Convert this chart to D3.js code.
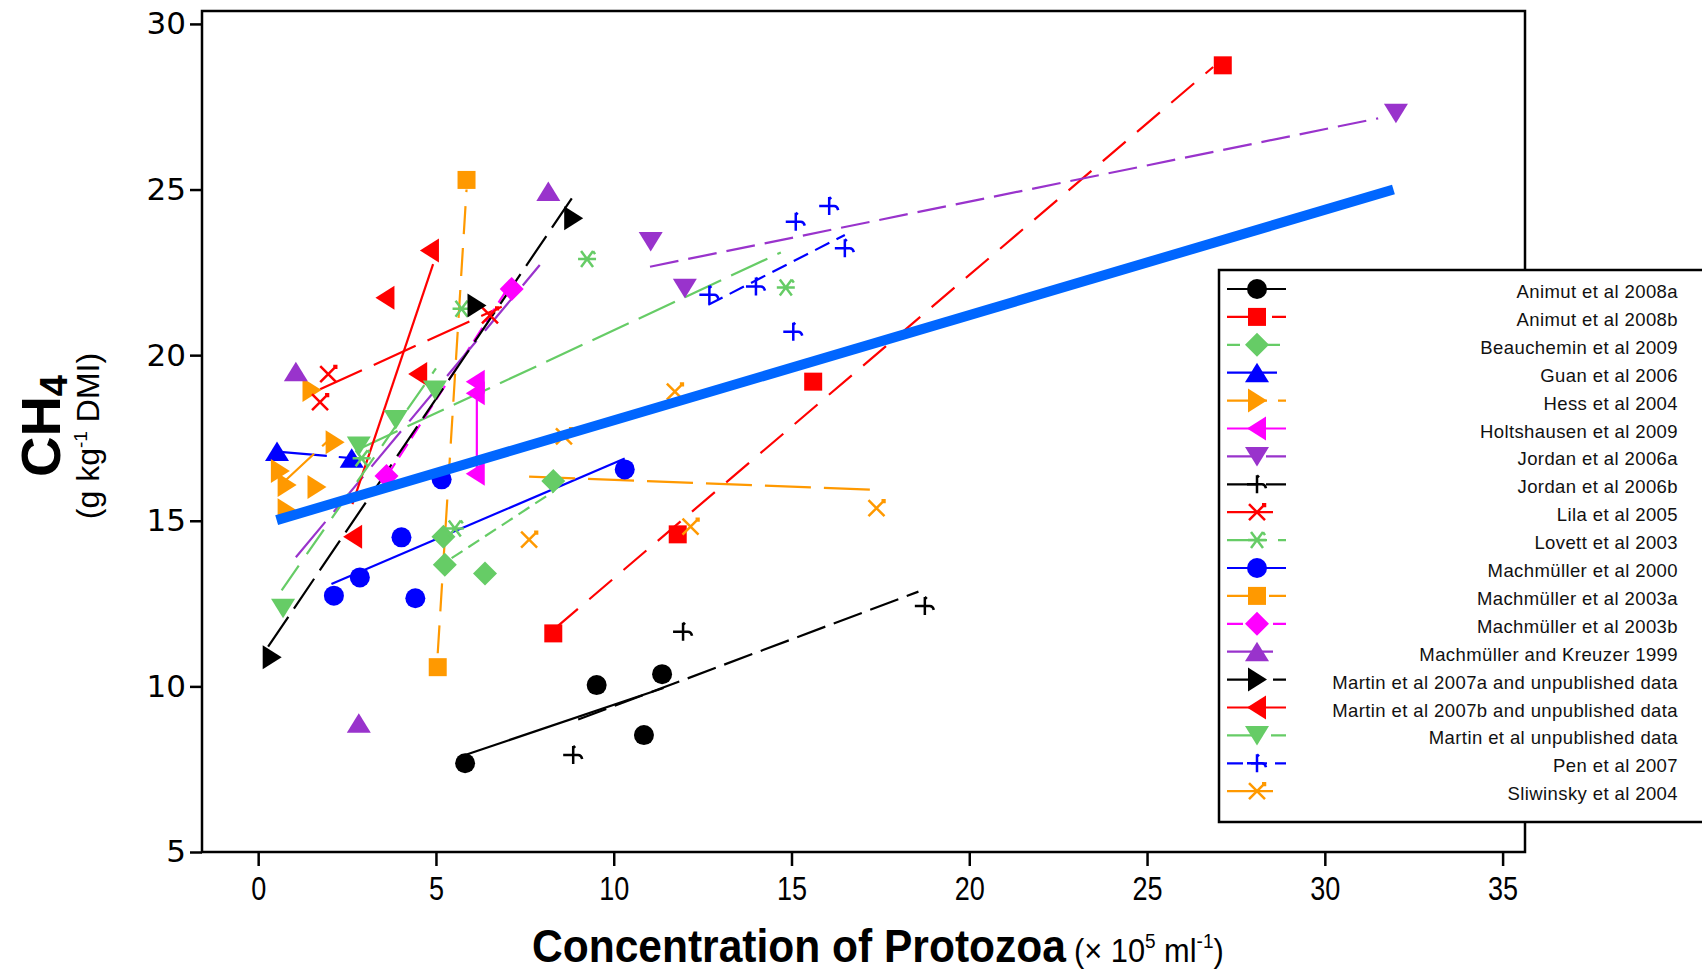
<!DOCTYPE html>
<html>
  <head>
    <script src="https://d3js.org/d3.v7.min.js"></script>
    <style>
      body { margin: 0; background: #fff; }
      svg { display: block; }
    </style>
  </head>
  <body>
    <svg width="1702" height="970"></svg>
  </body>
  <script>
    // studies, in legend order
    var studies = [
      "Animut et al 2008a", "Animut et al 2008b", "Beauchemin et al 2009",
      "Guan et al 2006", "Hess et al 2004", "Holtshausen et al 2009",
      "Jordan et al 2006a", "Jordan et al 2006b", "Lila et al 2005",
      "Lovett et al 2003", "Machmüller et al 2000", "Machmüller et al 2003a",
      "Machmüller et al 2003b", "Machmüller and Kreuzer 1999",
      "Martin et al 2007a and unpublished data", "Martin et al 2007b and unpublished data",
      "Martin et al unpublished data", "Pen et al 2007", "Sliwinsky et al 2004"
    ];

    // [protozoa (x10^5/ml), CH4 (g/kg DMI)]
    var animut2008a = [[5.82, 7.68], [9.52, 10.04], [10.85, 8.53], [11.36, 10.37]];
    var animut2008b = [[8.30, 11.6], [11.8, 14.59], [15.61, 19.2], [27.13, 28.75]];
    var beauchemin2009 = [[5.21, 14.52], [5.25, 13.67], [6.38, 13.41], [8.30, 16.2]];
    var guan2006 = [[0.53, 17.09], [2.63, 16.89]];
    var hess2004 = [[0.61, 16.5], [0.8, 16.08], [1.64, 16.02], [0.8, 15.32], [1.5, 18.95], [2.15, 17.37]];
    var holtshausen2009 = [[6.12, 19.2], [6.12, 18.85], [6.12, 16.42]];
    var jordan2006a = [[11.04, 23.43], [12.0, 22.02], [32.0, 27.3]];
    var jordan2006b = [[8.86, 7.93], [11.95, 11.65], [18.75, 12.43]];
    var lila2005 = [[1.97, 19.43], [1.74, 18.58], [6.52, 21.2]];
    var lovett2003 = [[2.91, 16.89], [5.53, 14.77], [5.72, 21.4], [9.25, 22.9], [14.84, 22.04]];
    var machmuller2000 = [[2.13, 12.74], [2.86, 13.29], [4.03, 14.5], [4.42, 12.66], [5.16, 16.25], [10.31, 16.55]];
    var machmuller2003a = [[5.05, 10.58], [5.86, 25.29]];
    var machmuller2003b = [[3.61, 16.35], [7.13, 22.0]];
    var machmullerKreuzer1999 = [[1.06, 19.5], [2.83, 8.89], [8.16, 24.94]];
    var martin2007a = [[0.38, 10.88], [6.14, 21.5], [8.86, 24.13]];
    var martin2007b = [[2.67, 14.52], [4.50, 19.43], [3.58, 21.73], [4.83, 23.16]];
    var martinUnpub = [[0.70, 12.36], [2.83, 17.26], [3.87, 18.06], [4.97, 18.95]];
    var pen2007 = [[12.69, 21.82], [14.0, 22.07], [15.05, 20.71], [15.12, 24.03], [16.06, 24.5], [16.5, 23.23]];
    var sliwinsky2004 = [[7.62, 14.43], [8.6, 17.55], [11.72, 18.9], [12.16, 14.82], [17.39, 15.38]];

    var points = [
      animut2008a, animut2008b, beauchemin2009, guan2006, hess2004, holtshausen2009,
      jordan2006a, jordan2006b, lila2005, lovett2003, machmuller2000, machmuller2003a,
      machmuller2003b, machmullerKreuzer1999, martin2007a, martin2007b, martinUnpub,
      pen2007, sliwinsky2004
    ];

    // within-study regression lines: [x1, y1, x2, y2]
    var fits = [
      [5.82, 7.93, 11.4, 9.95],
      [8.35, 11.75, 26.86, 28.7],
      [5.44, 13.87, 8.30, 15.88],
      [0.53, 17.09, 2.63, 16.89],
      [0.75, 16.2, 2.0, 17.45],
      [6.15, 16.6, 6.15, 19.1],
      [11.02, 22.67, 31.5, 27.15],
      [9.0, 9.0, 18.57, 12.86],
      [1.74, 18.97, 6.85, 21.46],
      [2.9, 17.2, 14.7, 23.1],
      [2.06, 13.09, 10.31, 16.88],
      [5.05, 11.0, 5.86, 25.0],
      [3.61, 16.33, 6.95, 21.9],
      [1.06, 13.9, 7.92, 22.72],
      [0.28, 11.2, 8.82, 24.73],
      [2.65, 15.5, 4.92, 22.75],
      [0.66, 12.9, 5.0, 19.6],
      [12.66, 21.52, 16.5, 23.63],
      [7.62, 16.33, 17.39, 15.93]
    ];

    // pooled regression across studies
    var overallFit = [0.52, 15.02, 31.93, 25.0];

    var xTicks = [0, 5, 10, 15, 20, 25, 30, 35];
    var yTicks = [5, 10, 15, 20, 25, 30];

    // styles
    var black = "#000000", red = "#ff0000", green = "#66cc66", blue = "#0000ff",
        orange = "#ff9900", magenta = "#ff00ff", purple = "#9933cc";
    var colors = [black, red, green, blue, orange, magenta, purple, black, red, green,
                  blue, orange, magenta, purple, black, red, green, blue, orange];
    var shapes = ["circle", "square", "diamond", "triUp", "triRight", "triLeft", "triDown",
                  "plus", "cross", "star", "circle", "square", "diamond", "triUp",
                  "triRight", "triLeft", "triDown", "plus", "cross"];
    var dashes = [null, "30,15", "13,7", "50,12", "40,11", null, "29,10", "30,9", "46,13",
                  "40,11", null, "28,14", "16,7", "46,13", "36,10", null, "30,14", "16,8", "46,13"];

    function shapePath(s) {
      switch (s) {
        case "circle": return "M10,0A10,10 0 1,1 -10,0A10,10 0 1,1 10,0Z";
        case "square": return "M-9,-9H9V9H-9Z";
        case "diamond": return "M0,-12L12,0L0,12L-12,0Z";
        case "triUp": return "M0,-10L12,9.5L-12,9.5Z";
        case "triDown": return "M0,10L12,-9.5L-12,-9.5Z";
        case "triRight": return "M10,0L-9,-12L-9,12Z";
        case "triLeft": return "M-10,0L9,-12L9,12Z";
        case "plus": return "M-10,0H5Q8,0 9,4M0,-9V9M0,-9L2,-7";
        case "cross": return "M-8,-8L8,8M-8,8L8,-8M5,-8H8V-5";
        case "star": return "M-9,0H9M-6,-8L6,8M-6,8L6,-8M6,-8L8,-5";
      }
    }
    function isStroked(s) { return s === "plus" || s === "cross" || s === "star"; }

    var svg = d3.select("svg");

    var x = d3.scaleLinear().domain([-1.58, 35.63]).range([202, 1525]);
    var y = d3.scaleLinear().domain([5, 30.39]).range([852, 11]);

    // axes
    var yAxis = svg.append("g")
      .attr("transform", "translate(202,0)")
      .call(d3.axisLeft(y).tickValues(yTicks).tickSize(12).tickPadding(4));
    yAxis.select(".domain").remove();
    yAxis.selectAll(".tick line").attr("stroke", "#000").attr("stroke-width", 2.5);
    yAxis.selectAll(".tick text")
      .attr("font-family", "DejaVu Sans").attr("font-size", 31).attr("fill", "#000");

    var xAxis = svg.append("g")
      .attr("transform", "translate(0,852)")
      .call(d3.axisBottom(x).tickValues(xTicks).tickSize(14).tickPadding(11));
    xAxis.select(".domain").remove();
    xAxis.selectAll(".tick line").attr("stroke", "#000").attr("stroke-width", 2.5);
    xAxis.selectAll(".tick text")
      .attr("font-family", "Liberation Sans").attr("font-size", 33).attr("fill", "#000")
      .attr("transform", "scale(0.82,1)");

    svg.append("rect")
      .attr("x", 202).attr("y", 11).attr("width", 1525 - 202).attr("height", 852 - 11)
      .attr("fill", "none").attr("stroke", "#000").attr("stroke-width", 2.5);

    // study fit lines
    svg.append("g").selectAll("line")
      .data(fits)
      .enter()
      .append("line")
      .attr("x1", function(d) { return x(d[0]); })
      .attr("y1", function(d) { return y(d[1]); })
      .attr("x2", function(d) { return x(d[2]); })
      .attr("y2", function(d) { return y(d[3]); })
      .attr("stroke", function(d, i) { return colors[i]; })
      .attr("stroke-width", 2.2)
      .attr("stroke-dasharray", function(d, i) { return dashes[i]; });

    // study points
    points.forEach(function(pts, i) {
      var stroked = isStroked(shapes[i]);
      svg.append("g").selectAll("path")
        .data(pts)
        .enter()
        .append("path")
        .attr("d", shapePath(shapes[i]))
        .attr("transform", function(d) { return "translate(" + x(d[0]) + "," + y(d[1]) + ")"; })
        .attr("fill", stroked ? "none" : colors[i])
        .attr("stroke", stroked ? colors[i] : "none")
        .attr("stroke-width", 2.5);
    });

    // pooled line
    svg.append("line")
      .attr("x1", x(overallFit[0])).attr("y1", y(overallFit[1]))
      .attr("x2", x(overallFit[2])).attr("y2", y(overallFit[3]))
      .attr("stroke", "#0066ff").attr("stroke-width", 10);

    // legend
    var legend = svg.append("g");
    legend.append("rect")
      .attr("x", 1219).attr("y", 270).attr("width", 520).attr("height", 552)
      .attr("fill", "#fff").attr("stroke", "#000").attr("stroke-width", 2.5);

    var rows = legend.selectAll("g.row")
      .data(studies)
      .enter()
      .append("g")
      .attr("class", "row")
      .attr("transform", function(d, i) { return "translate(0," + (289 + i * 27.9) + ")"; });

    rows.append("line")
      .attr("x1", 1227).attr("x2", 1286).attr("y1", 0).attr("y2", 0)
      .attr("stroke", function(d, i) { return colors[i]; })
      .attr("stroke-width", 2.2)
      .attr("stroke-dasharray", function(d, i) { return dashes[i]; });

    rows.append("path")
      .attr("transform", "translate(1257,0)")
      .attr("d", function(d, i) { return shapePath(shapes[i]); })
      .attr("fill", function(d, i) { return isStroked(shapes[i]) ? "none" : colors[i]; })
      .attr("stroke", function(d, i) { return isStroked(shapes[i]) ? colors[i] : "none"; })
      .attr("stroke-width", 2.5);

    rows.append("text")
      .attr("x", 1678).attr("y", 9)
      .attr("text-anchor", "end")
      .attr("font-family", "Liberation Sans")
      .attr("font-size", 18.5)
      .attr("letter-spacing", 0.4)
      .attr("fill", "#111")
      .text(function(d) { return d; });

    // axis titles
    var yTitle = svg.append("text")
      .attr("transform", "translate(60,426) rotate(-90)")
      .attr("text-anchor", "middle")
      .attr("font-family", "Liberation Sans")
      .attr("font-weight", "bold")
      .attr("font-size", 56);
    yTitle.append("tspan").text("CH");
    yTitle.append("tspan").attr("font-size", 38).attr("dy", 7).text("4");

    var yUnit = svg.append("text")
      .attr("transform", "translate(99,436) rotate(-90)")
      .attr("text-anchor", "middle")
      .attr("font-family", "Liberation Sans")
      .attr("font-size", 32);
    yUnit.append("tspan").text("(g kg");
    yUnit.append("tspan").attr("font-size", 19).attr("dy", -12).text("-1");
    yUnit.append("tspan").attr("dy", 12).text(" DMI)");

    var xTitle = svg.append("text")
      .attr("transform", "translate(532,962) scale(0.905,1)")
      .attr("font-family", "Liberation Sans");
    xTitle.append("tspan").attr("font-weight", "bold").attr("font-size", 47).text("Concentration of Protozoa");
    xTitle.append("tspan").attr("font-size", 34).attr("dx", 9).text("(× 10");
    xTitle.append("tspan").attr("font-size", 21).attr("dy", -14).text("5");
    xTitle.append("tspan").attr("font-size", 34).attr("dy", 14).text(" ml");
    xTitle.append("tspan").attr("font-size", 21).attr("dy", -14).text("-1");
    xTitle.append("tspan").attr("font-size", 34).attr("dy", 14).text(")");
  </script>
</html>
